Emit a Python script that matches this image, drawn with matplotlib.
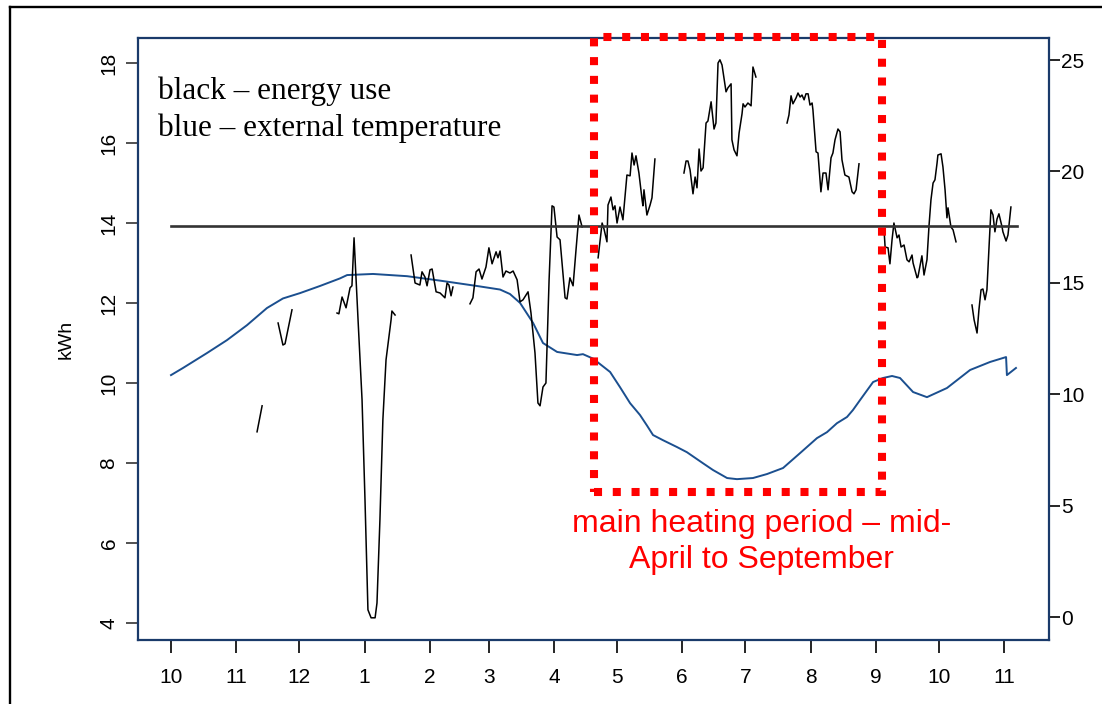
import matplotlib
matplotlib.use('Agg')
import matplotlib.pyplot as plt
from matplotlib.patches import Rectangle
from matplotlib.lines import Line2D

plt.rcParams['font.family'] = 'Liberation Sans'

# days counted from 1 October; month starts used for the x ticks
month_days = [0, 31, 61, 92, 123, 151, 182, 212, 243, 273, 304, 335, 365, 396]
month_labels = ['10', '11', '12', '1', '2', '3', '4', '5', '6', '7', '8', '9', '10', '11']

# daily energy use (kWh), broken into the stretches that have readings
energy_segments = [
    ([40.9, 43.3], [8.78, 9.43]),
    ([50.9, 53.2, 54.2, 57.5], [11.5, 10.95, 10.98, 11.83]),
    ([78.9, 79.8, 81.3, 83.2, 85.1, 86.0, 87.0, 88.9, 90.8, 92.2, 93.6, 95.1, 97.0,
      97.9, 99.3, 100.7, 102.2, 104.6, 105.0, 106.5],
     [11.75, 11.73, 12.15, 11.88, 12.38, 12.43, 13.63, 11.58, 9.58, 7.08, 4.33, 4.13, 4.13,
      4.5, 6.58, 9.08, 10.58, 11.58, 11.8, 11.7]),
    ([114.1, 116.0, 118.3, 119.3, 120.7, 121.7, 123.1, 124.1, 126.0, 127.9, 130.2, 131.2,
      132.1, 133.1, 134.0],
     [13.2, 12.5, 12.45, 12.78, 12.65, 12.43, 12.83, 12.85, 12.28, 12.25, 12.13, 12.5,
      12.45, 12.18, 12.4]),
    ([142.1, 143.5, 145.0, 146.4, 147.8, 149.7, 151.1, 152.6, 154.5, 155.4, 156.4, 157.8,
      159.2, 161.1, 162.6, 164.5, 165.9, 167.3, 169.7, 171.1, 173.0, 174.4, 175.4, 176.8,
      178.2, 179.7, 181.1, 182.0, 183.5, 184.9, 187.3, 188.2, 189.6, 191.1, 192.5, 193.9,
      195.4],
     [11.98, 12.13, 12.78, 12.85, 12.6, 12.9, 13.38, 12.98, 13.28, 13.13, 13.3, 12.65,
      12.8, 12.75, 12.8, 12.58, 12.03, 12.08, 12.28, 11.75, 10.75, 9.5, 9.43, 9.9,
      10.0, 12.58, 14.43, 14.4, 13.65, 13.58, 12.13, 12.1, 12.63, 12.43, 13.33, 14.2,
      13.9]),
    ([203.0, 204.9, 205.8, 207.2, 207.7, 209.1, 210.1, 211.0, 212.0, 213.4, 214.8, 216.7,
      218.2, 219.1, 220.1, 221.0, 222.4, 223.9, 224.3, 224.8, 226.2, 227.7, 228.6, 230.0],
     [13.13, 14.0, 13.85, 13.53, 14.45, 14.65, 14.33, 14.43, 14.0, 14.4, 14.08, 15.2,
      15.18, 15.75, 15.45, 15.68, 15.25, 14.58, 14.43, 14.83, 14.2, 14.45, 14.63, 15.6]),
    ([243.8, 244.8, 245.7, 246.7, 248.1, 249.1, 250.0, 251.0, 251.9, 252.9, 254.3, 255.2,
      256.7, 258.1, 259.0, 260.0, 260.9, 261.9, 263.8, 264.7, 266.2, 266.6, 267.6, 269.0,
      270.0, 271.4, 271.9, 272.8, 274.2, 275.7, 276.6, 278.0],
     [15.25, 15.55, 15.55, 15.33, 14.73, 15.15, 14.88, 15.85, 15.3, 15.38, 16.5, 16.55,
      17.03, 16.35, 16.5, 18.0, 18.08, 17.95, 17.28, 17.38, 17.48, 16.08, 15.83, 15.68,
      16.25, 16.73, 16.98, 16.9, 17.0, 16.93, 17.9, 17.65]),
    ([292.8, 293.7, 294.7, 295.6, 297.1, 298.0, 299.0, 299.9, 300.9, 301.8, 302.8, 303.7,
      304.7, 305.1, 306.6, 307.5, 308.9, 309.9, 311.3, 312.3, 313.7, 314.6, 315.6, 317.0,
      318.0, 318.9, 320.3, 322.2, 323.7, 324.6, 325.6, 327.0],
     [16.5, 16.7, 17.18, 16.98, 17.13, 17.25, 17.15, 17.2, 17.08, 17.23, 17.23, 16.95,
      17.0, 16.83, 15.78, 15.75, 14.78, 15.25, 15.25, 14.83, 15.63, 15.75, 16.08, 16.35,
      16.28, 15.58, 15.2, 15.15, 14.78, 14.73, 14.83, 15.48]),
    ([338.9, 339.4, 340.8, 341.7, 342.7, 343.6, 345.1, 346.0, 347.0, 348.4, 349.8, 350.8,
      352.2, 352.7, 354.6, 355.0, 356.9, 357.9, 359.3, 360.3, 361.2, 362.2, 363.1, 364.1,
      364.5, 366.0, 366.9, 367.9, 368.8, 369.3, 370.7, 371.7, 373.1],
     [13.83, 13.4, 13.38, 12.98, 13.58, 14.0, 13.63, 13.7, 13.4, 13.45, 13.08, 13.03,
      13.2, 13.0, 12.63, 12.65, 13.18, 12.7, 13.08, 13.95, 14.58, 15.0, 15.08, 15.5,
      15.7, 15.73, 15.4, 14.83, 14.13, 14.38, 13.9, 13.83, 13.53]),
    ([380.7, 381.7, 383.1, 384.0, 385.0, 385.9, 386.9, 387.8, 388.8, 389.7, 390.7, 391.6,
      392.6, 393.5, 395.0, 395.4, 396.9, 397.8, 399.2],
     [11.95, 11.58, 11.25, 11.83, 12.33, 12.35, 12.08, 12.33, 13.4, 14.33, 14.2, 13.78,
      14.1, 14.23, 13.9, 13.78, 13.55, 13.7, 14.4]),
]
mean_energy = 13.92
mean_span = [0, 402]

# smoothed external temperature (deg C)
temp_days = [0, 5.7, 17.1, 26.6, 36.1, 45.6, 53.2, 61.3, 70.8, 80.3, 83.7, 96.0, 112.2,
             127.9, 145.4, 156.4, 161.1, 165.9, 172.1, 176.8, 183.5, 193.0, 195.8, 200.6,
             208.7, 213.4, 218.2, 222.9, 226.2, 229.1, 233.8, 240.5, 245.2, 252.9, 257.6,
             264.3, 269.0, 276.6, 283.3, 290.9, 299.0, 307.0, 311.8, 316.5, 321.3, 324.1,
             327.5, 333.7, 338.4, 342.7, 346.5, 352.7, 359.3, 368.8, 379.8, 389.3, 396.9,
             397.3, 401.6]
temp_vals = [10.86, 11.18, 11.85, 12.43, 13.1, 13.87, 14.3, 14.54, 14.86, 15.2, 15.35,
             15.4, 15.3, 15.1, 14.86, 14.7, 14.5, 14.1, 13.2, 12.3, 11.9, 11.76, 11.8, 11.6,
             11.0, 10.32, 9.6, 9.07, 8.6, 8.17, 7.94, 7.63, 7.4, 6.9, 6.6,
             6.24, 6.19, 6.24, 6.42, 6.69, 7.36, 8.03, 8.3, 8.7, 8.98, 9.29,
             9.74, 10.55, 10.73, 10.82, 10.73, 10.1, 9.87, 10.28, 11.09, 11.45, 11.67,
             10.86, 11.18]

# heating period box: mid-April to start of September
heat_start, heat_end = 201.0, 337.9
heat_low, heat_high = 7.275, 18.65

navy = '#1a3a6a'
temp_blue = '#1b4f8f'

fig = plt.figure(figsize=(11.02, 7.04), dpi=100)
ax2 = fig.add_axes([0.1252, 0.0909, 0.8267, 0.8551])
ax = fig.add_axes([0.1252, 0.0909, 0.8267, 0.8551], sharex=ax2)
ax.set_zorder(ax2.get_zorder() + 1)
ax.patch.set_visible(False)

ax2.plot(temp_days, temp_vals, color=temp_blue, lw=1.4)
ax2.set_ylim(-1.03, 25.99)
ax2.set_yticks([0, 5, 10, 15, 20, 25])
ax2.yaxis.tick_right()
ax2.tick_params(axis='y', length=8, width=1.2, pad=1, labelsize=15, color='black')
ax2.tick_params(axis='x', bottom=False, labelbottom=False)
for s in ax2.spines.values():
    s.set_visible(False)
ax2.spines['right'].set_visible(True)
ax2.spines['right'].set_bounds(0, 25)
ax2.spines['right'].set_color('black')
ax2.spines['right'].set_linewidth(1.4)

for xs, ys in energy_segments:
    ax.plot(xs, ys, color='black', lw=1.1)
ax.plot(mean_span, [mean_energy, mean_energy], color='#333333', lw=1.9)

ax.set_xlim(-15.7, 417.3)
ax.set_ylim(3.575, 18.625)
ax.set_yticks([4, 6, 8, 10, 12, 14, 16, 18])
ax.set_xticks(month_days)
ax.set_xticklabels(month_labels)
ax.tick_params(axis='y', length=9, width=1.2, color='#333333', pad=5, labelsize=15,
               labelrotation=90)
ax.tick_params(axis='x', length=9, width=1.2, color='black', pad=11, labelsize=15)
ax.tick_params(right=False)
for lab in ax.get_yticklabels():
    lab.set_va('center')
for s in ax.spines.values():
    s.set_color(navy)
    s.set_linewidth(1.6)
ax.set_ylabel('kWh', fontsize=14, labelpad=18)

ax.add_patch(Rectangle((heat_start, heat_low), heat_end - heat_start, heat_high - heat_low,
                       fill=False, edgecolor='#ff0000', lw=5.8, linestyle=(0, (1, 1.33)),
                       capstyle='butt', clip_on=False, zorder=5))

ax.text(0.022, 0.8987, 'black \u2013 energy use', transform=ax.transAxes,
        fontsize=22.5, family='Liberation Serif', va='baseline')
ax.text(0.022, 0.8372, 'blue \u2013 external temperature', transform=ax.transAxes,
        fontsize=22.5, family='Liberation Serif', va='baseline')
ax.text(280.5, 6.275, 'main heating period \u2013 mid-', color='#ff0000',
        fontsize=23, ha='center', va='baseline')
ax.text(280.5, 5.375, 'April to September', color='#ff0000',
        fontsize=23, ha='center', va='baseline')

# frame around the figure
fig.add_artist(Line2D([10 / 1102, 1], [1 - 7 / 704, 1 - 7 / 704], color='black', lw=1.7,
                      transform=fig.transFigure))
fig.add_artist(Line2D([10 / 1102, 10 / 1102], [0, 1 - 7 / 704], color='black', lw=1.7,
                      transform=fig.transFigure))

fig.savefig('out.png', dpi=100)
